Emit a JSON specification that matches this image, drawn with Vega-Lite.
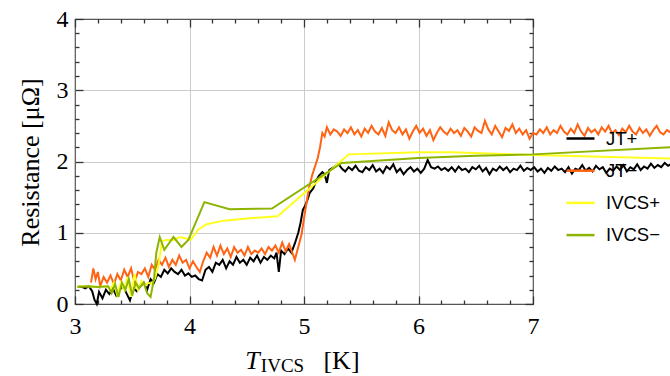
{
"$schema":"https://vega.github.io/schema/vega-lite/v6.json",
"width":458,"height":285,
"autosize":{"type":"none"},
"padding":{"left":75,"top":19,"right":137,"bottom":72},
"background":"white",
"config":{"view":{"stroke":"#555555","strokeWidth":1.2},"axis":{"labelFont":"Liberation Serif","titleFont":"Liberation Serif","labelColor":"black","titleColor":"black","titleFontWeight":"normal","domain":false,"ticks":true,"tickColor":"#333333","tickWidth":1.3,"tickOpacity":1}},
"data":{"values":[
{"s":"JT+","t":3.03,"r":0.25},{"s":"JT+","t":3.06,"r":0.24},{"s":"JT+","t":3.09,"r":0.22},{"s":"JT+","t":3.12,"r":0.25},{"s":"JT+","t":3.15,"r":0.18},{"s":"JT+","t":3.17,"r":0.06},{"s":"JT+","t":3.19,"r":0.0},{"s":"JT+","t":3.21,"r":0.17},{"s":"JT+","t":3.24,"r":0.08},{"s":"JT+","t":3.27,"r":0.2},{"s":"JT+","t":3.3,"r":0.14},{"s":"JT+","t":3.33,"r":0.22},{"s":"JT+","t":3.36,"r":0.12},{"s":"JT+","t":3.39,"r":0.2},{"s":"JT+","t":3.42,"r":0.25},{"s":"JT+","t":3.45,"r":0.15},{"s":"JT+","t":3.48,"r":0.05},{"s":"JT+","t":3.51,"r":0.22},{"s":"JT+","t":3.54,"r":0.18},{"s":"JT+","t":3.57,"r":0.25},{"s":"JT+","t":3.6,"r":0.3},{"s":"JT+","t":3.63,"r":0.2},{"s":"JT+","t":3.66,"r":0.35},{"s":"JT+","t":3.69,"r":0.3},{"s":"JT+","t":3.72,"r":0.42},{"s":"JT+","t":3.75,"r":0.38},{"s":"JT+","t":3.78,"r":0.48},{"s":"JT+","t":3.81,"r":0.43},{"s":"JT+","t":3.84,"r":0.5},{"s":"JT+","t":3.87,"r":0.45},{"s":"JT+","t":3.9,"r":0.42},{"s":"JT+","t":3.93,"r":0.48},{"s":"JT+","t":3.96,"r":0.4},{"s":"JT+","t":3.99,"r":0.43},{"s":"JT+","t":4.02,"r":0.38},{"s":"JT+","t":4.05,"r":0.4},{"s":"JT+","t":4.08,"r":0.35},{"s":"JT+","t":4.11,"r":0.33},{"s":"JT+","t":4.14,"r":0.48},{"s":"JT+","t":4.17,"r":0.52},{"s":"JT+","t":4.2,"r":0.45},{"s":"JT+","t":4.23,"r":0.58},{"s":"JT+","t":4.26,"r":0.55},{"s":"JT+","t":4.29,"r":0.62},{"s":"JT+","t":4.32,"r":0.5},{"s":"JT+","t":4.35,"r":0.6},{"s":"JT+","t":4.38,"r":0.55},{"s":"JT+","t":4.41,"r":0.66},{"s":"JT+","t":4.44,"r":0.58},{"s":"JT+","t":4.47,"r":0.62},{"s":"JT+","t":4.5,"r":0.55},{"s":"JT+","t":4.53,"r":0.65},{"s":"JT+","t":4.56,"r":0.6},{"s":"JT+","t":4.59,"r":0.68},{"s":"JT+","t":4.62,"r":0.58},{"s":"JT+","t":4.65,"r":0.66},{"s":"JT+","t":4.68,"r":0.62},{"s":"JT+","t":4.71,"r":0.68},{"s":"JT+","t":4.74,"r":0.64},{"s":"JT+","t":4.76,"r":0.72},{"s":"JT+","t":4.78,"r":0.45},{"s":"JT+","t":4.8,"r":0.75},{"s":"JT+","t":4.83,"r":0.7},{"s":"JT+","t":4.86,"r":0.78},{"s":"JT+","t":4.89,"r":0.72},{"s":"JT+","t":4.92,"r":0.85},{"s":"JT+","t":4.95,"r":1.0},{"s":"JT+","t":4.97,"r":1.14},{"s":"JT+","t":4.99,"r":1.32},{"s":"JT+","t":5.01,"r":1.38},{"s":"JT+","t":5.03,"r":1.46},{"s":"JT+","t":5.05,"r":1.56},{"s":"JT+","t":5.08,"r":1.62},{"s":"JT+","t":5.11,"r":1.74},{"s":"JT+","t":5.13,"r":1.8},{"s":"JT+","t":5.16,"r":1.85},{"s":"JT+","t":5.18,"r":1.82},{"s":"JT+","t":5.2,"r":1.7},{"s":"JT+","t":5.22,"r":1.88},{"s":"JT+","t":5.24,"r":1.9},{"s":"JT+","t":5.27,"r":1.93},{"s":"JT+","t":5.3,"r":1.97},
{"s":"JT+","t":5.33,"r":1.9},{"s":"JT+","t":5.36,"r":1.86},{"s":"JT+","t":5.39,"r":1.92},{"s":"JT+","t":5.42,"r":1.88},{"s":"JT+","t":5.45,"r":1.94},{"s":"JT+","t":5.48,"r":1.87},{"s":"JT+","t":5.51,"r":1.85},{"s":"JT+","t":5.54,"r":1.92},{"s":"JT+","t":5.57,"r":1.88},{"s":"JT+","t":5.6,"r":1.95},{"s":"JT+","t":5.63,"r":1.86},{"s":"JT+","t":5.66,"r":1.9},{"s":"JT+","t":5.69,"r":1.84},{"s":"JT+","t":5.72,"r":1.93},{"s":"JT+","t":5.75,"r":1.89},{"s":"JT+","t":5.78,"r":1.96},{"s":"JT+","t":5.81,"r":1.85},{"s":"JT+","t":5.84,"r":1.9},{"s":"JT+","t":5.87,"r":1.82},{"s":"JT+","t":5.9,"r":1.88},{"s":"JT+","t":5.93,"r":1.92},{"s":"JT+","t":5.96,"r":1.86},{"s":"JT+","t":5.99,"r":1.9},{"s":"JT+","t":6.02,"r":1.84},{"s":"JT+","t":6.05,"r":1.9},{"s":"JT+","t":6.08,"r":2.02},{"s":"JT+","t":6.11,"r":1.92},{"s":"JT+","t":6.14,"r":1.9},{"s":"JT+","t":6.17,"r":1.93},{"s":"JT+","t":6.2,"r":1.88},{"s":"JT+","t":6.23,"r":1.91},{"s":"JT+","t":6.26,"r":1.87},{"s":"JT+","t":6.29,"r":1.92},{"s":"JT+","t":6.32,"r":1.86},{"s":"JT+","t":6.35,"r":1.93},{"s":"JT+","t":6.38,"r":1.88},{"s":"JT+","t":6.41,"r":1.9},{"s":"JT+","t":6.44,"r":1.85},{"s":"JT+","t":6.47,"r":1.92},{"s":"JT+","t":6.5,"r":1.89},{"s":"JT+","t":6.53,"r":1.94},{"s":"JT+","t":6.56,"r":1.86},{"s":"JT+","t":6.59,"r":1.91},{"s":"JT+","t":6.62,"r":1.82},{"s":"JT+","t":6.65,"r":1.9},{"s":"JT+","t":6.68,"r":1.87},{"s":"JT+","t":6.71,"r":1.93},{"s":"JT+","t":6.74,"r":1.88},{"s":"JT+","t":6.77,"r":1.92},{"s":"JT+","t":6.8,"r":1.85},{"s":"JT+","t":6.83,"r":1.9},{"s":"JT+","t":6.86,"r":1.88},{"s":"JT+","t":6.89,"r":1.94},{"s":"JT+","t":6.92,"r":1.87},{"s":"JT+","t":6.95,"r":1.91},{"s":"JT+","t":6.98,"r":1.88},{"s":"JT+","t":7.01,"r":1.92},{"s":"JT+","t":7.04,"r":1.86},{"s":"JT+","t":7.07,"r":1.9},{"s":"JT+","t":7.1,"r":1.84},{"s":"JT+","t":7.13,"r":1.91},{"s":"JT+","t":7.16,"r":1.87},{"s":"JT+","t":7.19,"r":1.93},{"s":"JT+","t":7.22,"r":1.88},{"s":"JT+","t":7.25,"r":1.9},{"s":"JT+","t":7.28,"r":1.85},{"s":"JT+","t":7.31,"r":1.92},{"s":"JT+","t":7.34,"r":1.83},{"s":"JT+","t":7.37,"r":1.9},{"s":"JT+","t":7.4,"r":1.88},{"s":"JT+","t":7.43,"r":1.95},{"s":"JT+","t":7.46,"r":1.87},{"s":"JT+","t":7.49,"r":1.91},{"s":"JT+","t":7.52,"r":1.86},{"s":"JT+","t":7.55,"r":1.94},{"s":"JT+","t":7.58,"r":1.89},{"s":"JT+","t":7.61,"r":1.92},{"s":"JT+","t":7.64,"r":1.84},{"s":"JT+","t":7.67,"r":1.9},{"s":"JT+","t":7.7,"r":1.87},{"s":"JT+","t":7.73,"r":1.93},{"s":"JT+","t":7.76,"r":1.88},{"s":"JT+","t":7.79,"r":1.95},{"s":"JT+","t":7.82,"r":1.86},{"s":"JT+","t":7.85,"r":1.92},{"s":"JT+","t":7.88,"r":1.89},{"s":"JT+","t":7.91,"r":1.96},{"s":"JT+","t":7.94,"r":1.88},{"s":"JT+","t":7.97,"r":1.93},{"s":"JT+","t":8.0,"r":1.9},{"s":"JT+","t":8.03,"r":1.97},{"s":"JT+","t":8.06,"r":1.91},{"s":"JT+","t":8.09,"r":1.95},{"s":"JT+","t":8.12,"r":1.92},{"s":"JT+","t":8.15,"r":1.98},{"s":"JT+","t":8.18,"r":1.94},{"s":"JT+","t":8.21,"r":1.97},
{"s":"JT−","t":3.14,"r":0.3},{"s":"JT−","t":3.16,"r":0.5},{"s":"JT−","t":3.18,"r":0.35},{"s":"JT−","t":3.2,"r":0.45},{"s":"JT−","t":3.22,"r":0.25},{"s":"JT−","t":3.25,"r":0.38},{"s":"JT−","t":3.28,"r":0.3},{"s":"JT−","t":3.31,"r":0.4},{"s":"JT−","t":3.34,"r":0.28},{"s":"JT−","t":3.37,"r":0.42},{"s":"JT−","t":3.4,"r":0.33},{"s":"JT−","t":3.43,"r":0.48},{"s":"JT−","t":3.46,"r":0.38},{"s":"JT−","t":3.49,"r":0.5},{"s":"JT−","t":3.52,"r":0.3},{"s":"JT−","t":3.55,"r":0.45},{"s":"JT−","t":3.58,"r":0.42},{"s":"JT−","t":3.61,"r":0.5},{"s":"JT−","t":3.64,"r":0.38},{"s":"JT−","t":3.67,"r":0.55},{"s":"JT−","t":3.7,"r":0.48},{"s":"JT−","t":3.73,"r":0.62},{"s":"JT−","t":3.76,"r":0.55},{"s":"JT−","t":3.79,"r":0.65},{"s":"JT−","t":3.82,"r":0.52},{"s":"JT−","t":3.85,"r":0.62},{"s":"JT−","t":3.88,"r":0.55},{"s":"JT−","t":3.91,"r":0.68},{"s":"JT−","t":3.94,"r":0.58},{"s":"JT−","t":3.97,"r":0.62},{"s":"JT−","t":4.0,"r":0.5},{"s":"JT−","t":4.03,"r":0.6},{"s":"JT−","t":4.06,"r":0.52},{"s":"JT−","t":4.09,"r":0.45},{"s":"JT−","t":4.12,"r":0.6},{"s":"JT−","t":4.15,"r":0.72},{"s":"JT−","t":4.18,"r":0.65},{"s":"JT−","t":4.21,"r":0.8},{"s":"JT−","t":4.24,"r":0.68},{"s":"JT−","t":4.27,"r":0.82},{"s":"JT−","t":4.3,"r":0.7},{"s":"JT−","t":4.33,"r":0.78},{"s":"JT−","t":4.36,"r":0.66},{"s":"JT−","t":4.39,"r":0.8},{"s":"JT−","t":4.42,"r":0.72},{"s":"JT−","t":4.45,"r":0.76},{"s":"JT−","t":4.48,"r":0.68},{"s":"JT−","t":4.51,"r":0.8},{"s":"JT−","t":4.54,"r":0.7},{"s":"JT−","t":4.57,"r":0.75},{"s":"JT−","t":4.6,"r":0.72},{"s":"JT−","t":4.63,"r":0.78},{"s":"JT−","t":4.66,"r":0.7},{"s":"JT−","t":4.69,"r":0.8},{"s":"JT−","t":4.72,"r":0.75},{"s":"JT−","t":4.75,"r":0.82},{"s":"JT−","t":4.78,"r":0.72},{"s":"JT−","t":4.81,"r":0.86},{"s":"JT−","t":4.84,"r":0.74},{"s":"JT−","t":4.87,"r":0.84},{"s":"JT−","t":4.9,"r":0.71},{"s":"JT−","t":4.92,"r":0.62},{"s":"JT−","t":4.94,"r":0.74},{"s":"JT−","t":4.96,"r":0.86},{"s":"JT−","t":4.98,"r":0.99},{"s":"JT−","t":5.0,"r":1.2},{"s":"JT−","t":5.02,"r":1.4},{"s":"JT−","t":5.04,"r":1.6},{"s":"JT−","t":5.07,"r":1.8},{"s":"JT−","t":5.09,"r":1.9},{"s":"JT−","t":5.12,"r":2.05},{"s":"JT−","t":5.14,"r":2.2},{"s":"JT−","t":5.16,"r":2.4},{"s":"JT−","t":5.18,"r":2.35},{"s":"JT−","t":5.2,"r":2.48},{"s":"JT−","t":5.23,"r":2.38},{"s":"JT−","t":5.26,"r":2.45},
{"s":"JT−","t":5.29,"r":2.42},{"s":"JT−","t":5.32,"r":2.36},{"s":"JT−","t":5.35,"r":2.45},{"s":"JT−","t":5.38,"r":2.4},{"s":"JT−","t":5.41,"r":2.48},{"s":"JT−","t":5.44,"r":2.38},{"s":"JT−","t":5.47,"r":2.44},{"s":"JT−","t":5.5,"r":2.35},{"s":"JT−","t":5.53,"r":2.46},{"s":"JT−","t":5.56,"r":2.4},{"s":"JT−","t":5.59,"r":2.5},{"s":"JT−","t":5.62,"r":2.42},{"s":"JT−","t":5.65,"r":2.38},{"s":"JT−","t":5.68,"r":2.47},{"s":"JT−","t":5.71,"r":2.36},{"s":"JT−","t":5.74,"r":2.55},{"s":"JT−","t":5.77,"r":2.44},{"s":"JT−","t":5.8,"r":2.4},{"s":"JT−","t":5.83,"r":2.48},{"s":"JT−","t":5.86,"r":2.38},{"s":"JT−","t":5.89,"r":2.45},{"s":"JT−","t":5.92,"r":2.32},{"s":"JT−","t":5.95,"r":2.42},{"s":"JT−","t":5.98,"r":2.5},{"s":"JT−","t":6.01,"r":2.4},{"s":"JT−","t":6.04,"r":2.46},{"s":"JT−","t":6.07,"r":2.36},{"s":"JT−","t":6.1,"r":2.44},{"s":"JT−","t":6.13,"r":2.3},{"s":"JT−","t":6.16,"r":2.4},{"s":"JT−","t":6.19,"r":2.48},{"s":"JT−","t":6.22,"r":2.42},{"s":"JT−","t":6.25,"r":2.38},{"s":"JT−","t":6.28,"r":2.46},{"s":"JT−","t":6.31,"r":2.4},{"s":"JT−","t":6.34,"r":2.44},{"s":"JT−","t":6.37,"r":2.36},{"s":"JT−","t":6.4,"r":2.47},{"s":"JT−","t":6.43,"r":2.42},{"s":"JT−","t":6.46,"r":2.35},{"s":"JT−","t":6.49,"r":2.48},{"s":"JT−","t":6.52,"r":2.43},{"s":"JT−","t":6.55,"r":2.4},{"s":"JT−","t":6.58,"r":2.57},{"s":"JT−","t":6.61,"r":2.45},{"s":"JT−","t":6.64,"r":2.38},{"s":"JT−","t":6.67,"r":2.5},{"s":"JT−","t":6.7,"r":2.42},{"s":"JT−","t":6.73,"r":2.34},{"s":"JT−","t":6.76,"r":2.47},{"s":"JT−","t":6.79,"r":2.43},{"s":"JT−","t":6.82,"r":2.52},{"s":"JT−","t":6.85,"r":2.4},{"s":"JT−","t":6.88,"r":2.46},{"s":"JT−","t":6.91,"r":2.38},{"s":"JT−","t":6.94,"r":2.44},{"s":"JT−","t":6.97,"r":2.32},{"s":"JT−","t":7.0,"r":2.4},{"s":"JT−","t":7.03,"r":2.38},{"s":"JT−","t":7.06,"r":2.45},{"s":"JT−","t":7.09,"r":2.4},{"s":"JT−","t":7.12,"r":2.48},{"s":"JT−","t":7.15,"r":2.38},{"s":"JT−","t":7.18,"r":2.44},{"s":"JT−","t":7.21,"r":2.4},{"s":"JT−","t":7.24,"r":2.5},{"s":"JT−","t":7.27,"r":2.42},{"s":"JT−","t":7.3,"r":2.38},{"s":"JT−","t":7.33,"r":2.46},{"s":"JT−","t":7.36,"r":2.4},{"s":"JT−","t":7.39,"r":2.52},{"s":"JT−","t":7.42,"r":2.42},{"s":"JT−","t":7.45,"r":2.36},{"s":"JT−","t":7.48,"r":2.47},{"s":"JT−","t":7.51,"r":2.41},{"s":"JT−","t":7.54,"r":2.45},{"s":"JT−","t":7.57,"r":2.38},{"s":"JT−","t":7.6,"r":2.48},{"s":"JT−","t":7.63,"r":2.42},{"s":"JT−","t":7.66,"r":2.5},{"s":"JT−","t":7.69,"r":2.4},{"s":"JT−","t":7.72,"r":2.44},{"s":"JT−","t":7.75,"r":2.37},{"s":"JT−","t":7.78,"r":2.46},{"s":"JT−","t":7.81,"r":2.41},{"s":"JT−","t":7.84,"r":2.5},{"s":"JT−","t":7.87,"r":2.42},{"s":"JT−","t":7.9,"r":2.38},{"s":"JT−","t":7.93,"r":2.47},{"s":"JT−","t":7.96,"r":2.4},{"s":"JT−","t":7.99,"r":2.45},{"s":"JT−","t":8.02,"r":2.36},{"s":"JT−","t":8.05,"r":2.44},{"s":"JT−","t":8.08,"r":2.5},{"s":"JT−","t":8.11,"r":2.41},{"s":"JT−","t":8.14,"r":2.38},{"s":"JT−","t":8.17,"r":2.44},{"s":"JT−","t":8.21,"r":2.4},
{"s":"IVCS+","t":3.02,"r":0.25},{"s":"IVCS+","t":3.1,"r":0.25},{"s":"IVCS+","t":3.2,"r":0.24},{"s":"IVCS+","t":3.28,"r":0.25},{"s":"IVCS+","t":3.31,"r":0.2},{"s":"IVCS+","t":3.34,"r":0.3},{"s":"IVCS+","t":3.37,"r":0.12},{"s":"IVCS+","t":3.4,"r":0.3},{"s":"IVCS+","t":3.43,"r":0.2},{"s":"IVCS+","t":3.46,"r":0.38},{"s":"IVCS+","t":3.49,"r":0.1},{"s":"IVCS+","t":3.52,"r":0.42},{"s":"IVCS+","t":3.55,"r":0.2},{"s":"IVCS+","t":3.58,"r":0.32},{"s":"IVCS+","t":3.61,"r":0.25},{"s":"IVCS+","t":3.64,"r":0.3},{"s":"IVCS+","t":3.67,"r":0.28},{"s":"IVCS+","t":3.7,"r":0.36},{"s":"IVCS+","t":3.73,"r":0.55},{"s":"IVCS+","t":3.76,"r":0.88},{"s":"IVCS+","t":3.8,"r":0.9},{"s":"IVCS+","t":3.86,"r":0.9},{"s":"IVCS+","t":3.92,"r":0.94},{"s":"IVCS+","t":3.97,"r":0.92},{"s":"IVCS+","t":4.01,"r":0.9},{"s":"IVCS+","t":4.08,"r":1.05},{"s":"IVCS+","t":4.15,"r":1.12},{"s":"IVCS+","t":4.3,"r":1.17},{"s":"IVCS+","t":4.5,"r":1.2},{"s":"IVCS+","t":4.77,"r":1.23},{"s":"IVCS+","t":5.39,"r":2.1},{"s":"IVCS+","t":6.0,"r":2.13},{"s":"IVCS+","t":6.3,"r":2.13},{"s":"IVCS+","t":7.0,"r":2.09},{"s":"IVCS+","t":8.21,"r":2.04},
{"s":"IVCS−","t":3.02,"r":0.24},{"s":"IVCS−","t":3.1,"r":0.25},{"s":"IVCS−","t":3.2,"r":0.24},{"s":"IVCS−","t":3.29,"r":0.25},{"s":"IVCS−","t":3.32,"r":0.15},{"s":"IVCS−","t":3.35,"r":0.28},{"s":"IVCS−","t":3.38,"r":0.1},{"s":"IVCS−","t":3.41,"r":0.3},{"s":"IVCS−","t":3.44,"r":0.2},{"s":"IVCS−","t":3.47,"r":0.35},{"s":"IVCS−","t":3.5,"r":0.12},{"s":"IVCS−","t":3.53,"r":0.3},{"s":"IVCS−","t":3.56,"r":0.22},{"s":"IVCS−","t":3.6,"r":0.3},{"s":"IVCS−","t":3.63,"r":0.15},{"s":"IVCS−","t":3.66,"r":0.1},{"s":"IVCS−","t":3.69,"r":0.35},{"s":"IVCS−","t":3.71,"r":0.72},{"s":"IVCS−","t":3.74,"r":0.94},{"s":"IVCS−","t":3.78,"r":0.76},{"s":"IVCS−","t":3.86,"r":0.94},{"s":"IVCS−","t":3.93,"r":0.8},{"s":"IVCS−","t":3.99,"r":0.9},{"s":"IVCS−","t":4.13,"r":1.43},{"s":"IVCS−","t":4.35,"r":1.33},{"s":"IVCS−","t":4.72,"r":1.34},{"s":"IVCS−","t":5.33,"r":1.98},{"s":"IVCS−","t":6.0,"r":2.05},{"s":"IVCS−","t":6.5,"r":2.08},{"s":"IVCS−","t":7.0,"r":2.1},{"s":"IVCS−","t":8.21,"r":2.2}
]},
"layer":[
{"mark":{"type":"line","strokeWidth":2,"clip":false},
 "encoding":{
  "x":{"field":"t","type":"quantitative","scale":{"domain":[3,7],"nice":false,"zero":false},
   "axis":{"orient":"bottom","values":[3,4,5,6,7],"format":"d","ticks":false,
    "grid":true,"gridColor":"#cccccc",
    "gridOpacity":{"condition":{"test":"datum.value>3.01 && datum.value<6.99","value":1},"value":0},
    "labelFontSize":24,"labelPadding":10,"labelFlush":false,
    "title":"T","titleFontStyle":"italic","titleFontSize":26,"titleX":177,"titleY":64,"titleAlign":"center","titleBaseline":"alphabetic"}},
  "y":{"field":"r","type":"quantitative","scale":{"domain":[0,4],"nice":false,"zero":false},
   "axis":{"orient":"left","values":[0,1,2,3,4],"format":"d","ticks":false,
    "grid":true,"gridColor":"#cccccc",
    "gridOpacity":{"condition":{"test":"datum.value>0.01 && datum.value<3.99","value":1},"value":0},
    "labelFontSize":24,"labelPadding":7,"labelFlush":false,
    "title":"Resistance [μΩ]","titleFontSize":26,"titleX":-32,"titleY":143,"titleAngle":-90,"titleAlign":"center","titleBaseline":"bottom"}},
  "color":{"field":"s","type":"nominal","sort":null,
   "scale":{"domain":["JT+","JT−","IVCS+","IVCS−"],"range":["#000000","#ff6414","#ffff1e","#8cb400"]},
   "legend":{"title":null,"orient":"none","legendX":490,"legendY":104,"padding":0,"symbolType":"stroke","symbolSize":784,"symbolStrokeWidth":2.5,"labelFont":"Liberation Sans","labelFontSize":18.5,"labelColor":"black","labelOffset":10,"rowPadding":7.2}}
 }},
{"mark":{"type":"point","opacity":0},
 "encoding":{
  "x":{"field":"t","type":"quantitative","scale":{"domain":[3,7],"nice":false,"zero":false},
   "axis":{"orient":"top","values":[3,4,5,6,7],"offset":-8,"tickSize":8,"ticks":true,"labels":false,"grid":false,"title":null}},
  "y":{"field":"r","type":"quantitative","scale":{"domain":[0,4],"nice":false,"zero":false},
   "axis":{"orient":"right","values":[0,1,2,3,4],"offset":-8,"tickSize":8,"ticks":true,"labels":false,"grid":false,"title":null}}
 }},
{"mark":{"type":"point","opacity":0},
 "encoding":{
  "x":{"field":"t","type":"quantitative","scale":{"domain":[3,7],"nice":false,"zero":false},
   "axis":{"orient":"bottom","values":[3,4,5,6,7],"offset":-8,"tickSize":8,"ticks":true,"labels":false,"grid":false,
    "title":"IVCS","titleFontSize":19,"titleX":207,"titleY":75,"titleAlign":"center","titleBaseline":"alphabetic"}},
  "y":{"field":"r","type":"quantitative","scale":{"domain":[0,4],"nice":false,"zero":false},
   "axis":{"orient":"left","values":[0,1,2,3,4],"offset":-8,"tickSize":8,"ticks":true,"labels":false,"grid":false,"title":null}}
 }},
{"mark":{"type":"point","opacity":0},
 "encoding":{
  "x":{"field":"t","type":"quantitative","scale":{"domain":[3,7],"nice":false,"zero":false},
   "axis":{"orient":"top","values":[3.2,3.4,3.6,3.8,4.2,4.4,4.6,4.8,5.2,5.4,5.6,5.8,6.2,6.4,6.6,6.8],"offset":-4,"tickSize":4,"ticks":true,"labels":false,"grid":false,"title":null}},
  "y":{"field":"r","type":"quantitative","scale":{"domain":[0,4],"nice":false,"zero":false},
   "axis":{"orient":"right","values":[0.2,0.4,0.6,0.8,1.2,1.4,1.6,1.8,2.2,2.4,2.6,2.8,3.2,3.4,3.6,3.8],"offset":-4,"tickSize":4,"ticks":true,"labels":false,"grid":false,"title":null}}
 }},
{"mark":{"type":"point","opacity":0},
 "encoding":{
  "x":{"field":"t","type":"quantitative","scale":{"domain":[3,7],"nice":false,"zero":false},
   "axis":{"orient":"bottom","values":[3.2,3.4,3.6,3.8,4.2,4.4,4.6,4.8,5.2,5.4,5.6,5.8,6.2,6.4,6.6,6.8],"offset":-4,"tickSize":4,"ticks":true,"labels":false,"grid":false,
    "title":"[K]","titleFontSize":26,"titleX":266,"titleY":68,"titleAlign":"center","titleBaseline":"alphabetic"}},
  "y":{"field":"r","type":"quantitative","scale":{"domain":[0,4],"nice":false,"zero":false},
   "axis":{"orient":"left","values":[0.2,0.4,0.6,0.8,1.2,1.4,1.6,1.8,2.2,2.4,2.6,2.8,3.2,3.4,3.6,3.8],"offset":-4,"tickSize":4,"ticks":true,"labels":false,"grid":false,"title":null}}
 }}
],
"resolve":{"axis":{"x":"independent","y":"independent"}}
}
